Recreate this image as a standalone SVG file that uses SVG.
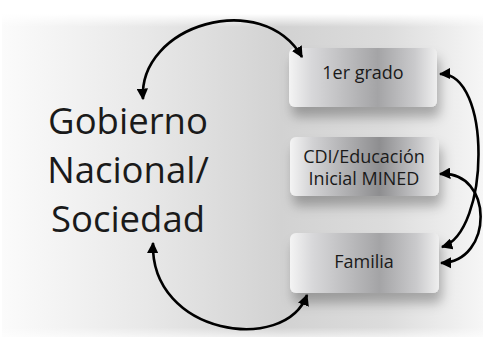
<svg xmlns="http://www.w3.org/2000/svg" width="483" height="337" viewBox="0 0 483 337">
<defs>
<linearGradient id="bg" x1="0" y1="0" x2="1" y2="0">
<stop offset="0" stop-color="#fbfbfb"/>
<stop offset="0.3" stop-color="#e8e8e8"/>
<stop offset="0.58" stop-color="#d2d2d2"/>
<stop offset="0.8" stop-color="#dcdcdc"/>
<stop offset="1" stop-color="#f6f6f6"/>
</linearGradient>
<linearGradient id="bgv" x1="0" y1="0" x2="0" y2="1">
<stop offset="0" stop-color="#fff" stop-opacity="1"/>
<stop offset="0.04" stop-color="#fff" stop-opacity="0"/>
<stop offset="0.97" stop-color="#fff" stop-opacity="0"/>
<stop offset="1" stop-color="#fff" stop-opacity="0.6"/>
</linearGradient>
<linearGradient id="box" x1="0" y1="0" x2="1" y2="0">
<stop offset="0" stop-color="#f4f4f4"/>
<stop offset="0.15" stop-color="#d2d2d4"/>
<stop offset="0.6" stop-color="#8e8e90"/>
<stop offset="0.85" stop-color="#c4c4c6"/>
<stop offset="1" stop-color="#ececec"/>
</linearGradient>
<linearGradient id="box1" x1="0" y1="0" x2="1" y2="0">
<stop offset="0" stop-color="#f4f4f4"/>
<stop offset="0.15" stop-color="#d8d8da"/>
<stop offset="0.6" stop-color="#a4a4a6"/>
<stop offset="0.85" stop-color="#cacacc"/>
<stop offset="1" stop-color="#efefef"/>
</linearGradient>
<filter id="sh" x="-20%" y="-20%" width="150%" height="180%">
<feDropShadow dx="3" dy="10" stdDeviation="6" flood-color="#000" flood-opacity="0.28"/>
</filter>
<marker id="ah" viewBox="0 0 10 10" refX="9" refY="5" markerWidth="4.4" markerHeight="4.4" orient="auto-start-reverse" markerUnits="strokeWidth">
<path d="M0,0 L10,5 L0,10 Z" fill="#000"/>
</marker>
<style>
.t{font-family:"Open Sans","Liberation Sans",sans-serif;fill:#1a1a1a;text-anchor:middle}
.big{font-size:36.5px}
.sm{font-size:18px}
.c{fill:none;stroke:#000;stroke-width:2.6;marker-start:url(#ah);marker-end:url(#ah)}
</style>
</defs>
<rect x="0" y="0" width="483" height="337" fill="#fff"/>
<rect x="2" y="14" width="481" height="323" fill="url(#bg)"/>
<rect x="2" y="14" width="481" height="323" fill="url(#bgv)"/>
<g id="gobierno">
<text class="t big" x="128" y="134">Gobierno</text>
<text class="t big" x="128" y="183">Nacional/</text>
<text class="t big" x="128" y="232">Sociedad</text>
</g>
<g id="primer-grado">
<rect x="289" y="48" width="148" height="59" rx="6" fill="url(#box1)" filter="url(#sh)"/>
<text class="t sm" x="363" y="79">1er grado</text>
</g>
<g id="cdi">
<rect x="290" y="137" width="149" height="59" rx="6" fill="url(#box)" filter="url(#sh)"/>
<text class="t sm" x="364" y="163">CDI/Educación</text>
<text class="t sm" x="364" y="185">Inicial MINED</text>
</g>
<g id="familia">
<rect x="290" y="233" width="149" height="60" rx="6" fill="url(#box1)" filter="url(#sh)"/>
<text class="t sm" x="364" y="268">Familia</text>
</g>
<g id="connectors">
<path class="c" d="M143,99 C138,25 262,-12 302,57"/>
<path class="c" d="M153,243 C150,335 285,355 307,295"/>
<path class="c" d="M440,74 C492,72 490,232 442,247"/>
<path class="c" d="M440,174 C494,170 494,262 441,263"/>
</g>
</svg>
